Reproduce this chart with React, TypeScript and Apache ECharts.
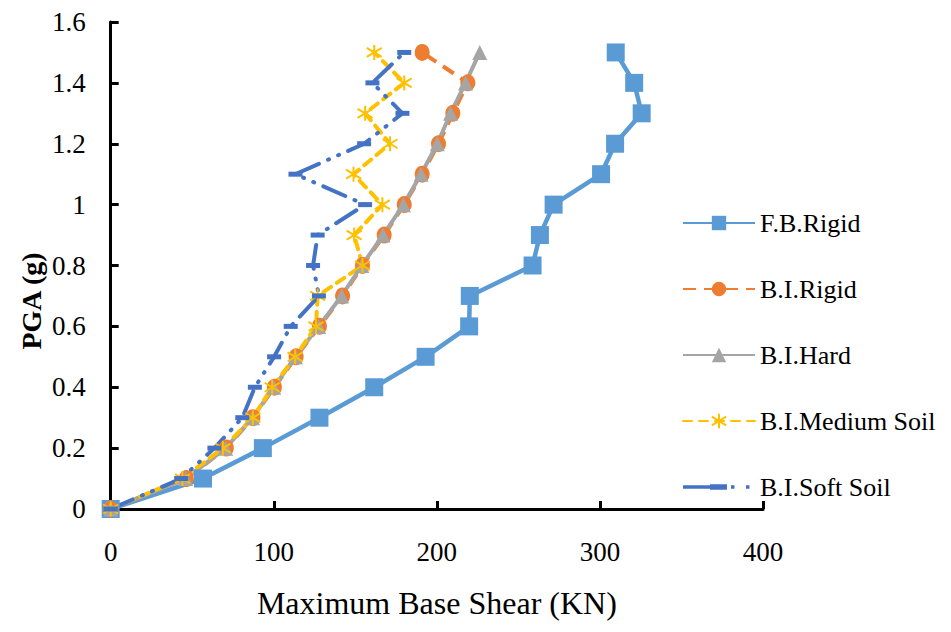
import React, { useEffect, useRef } from "react";
import * as echarts from "echarts";

const pga = [0, 0.1, 0.2, 0.3, 0.4, 0.5, 0.6, 0.7, 0.8, 0.9, 1.0, 1.1, 1.2, 1.3, 1.4, 1.5];
const fbRigid = [0, 56.6, 93.3, 128, 161.6, 193.1, 219.8, 220.2, 258.7, 263.2, 271.6, 300.7, 309.3, 325.6, 321, 309.7];
const biRigid = [0, 46.4, 70.9, 87.2, 100.4, 113.7, 128, 142.2, 154.4, 167.7, 180, 191, 201, 209.8, 219, 191];
const biHard = [0, 46, 70.5, 87, 100, 113.3, 127.5, 141.6, 154, 167, 179.5, 190.3, 200.3, 208.4, 217.6, 226.3];
const biMedium = [0, 44, 68.8, 87.2, 99, 113.1, 125.9, 126.9, 154.4, 149.3, 166.6, 148.9, 171.3, 156, 180, 161.6];
const biSoft = [0, 43.2, 63.6, 80.7, 88.4, 100.2, 110.4, 127.7, 124.1, 126.9, 156, 113.3, 155.4, 178.9, 160.5, 180];

const seriesNames = ["F.B.Rigid", "B.I.Rigid", "B.I.Hard", "B.I.Medium Soil", "B.I.Soft Soil"];
const xTitle = "Maximum Base Shear (KN)";
const yTitle = "PGA (g)";

const FONT = "Liberation Serif, Times New Roman, DejaVu Serif, serif";
const star = "path://M10,0 L10,20 M1.5,4 L18.5,16 M1.5,16 L18.5,4";
const softIcon =
  "path://M0,0 L0.01,0 L0,0.01 Z M72,18 L71.99,18 L72,17.99 Z " +
  "M0,7.2 L44,7.2 L44,10.8 L0,10.8 Z M27,6.3 L44,6.3 L44,11.7 L27,11.7 Z " +
  "M48,7.3 L51.5,7.3 L51.5,10.7 L48,10.7 Z M63,7.3 L66.5,7.3 L66.5,10.7 L63,10.7 Z";

function pts(xs: number[]) {
  return xs.map((x, i) => [x, pga[i]]);
}

export default function App() {
  const ref = useRef<HTMLDivElement>(null);
  useEffect(() => {
    if (!ref.current) return;
    const chart = echarts.init(ref.current, null, { renderer: "svg" });
    chart.setOption({
      animation: false,
      backgroundColor: "#fff",
      textStyle: { fontFamily: FONT },
      grid: { left: 102.7, right: 180, top: 14, bottom: 110, containLabel: false },
      graphic: [
        {
          type: "text",
          x: 23,
          y: 293,
          rotation: Math.PI / 2,
          style: {
            text: yTitle,
            fontFamily: FONT,
            fontSize: 28,
            fontWeight: "bold",
            fill: "#000",
            align: "center",
            verticalAlign: "middle",
          },
        },
      ],
      legend: {
        orient: "vertical",
        left: 674,
        top: 202,
        padding: 0,
        itemWidth: 72,
        itemHeight: 18,
        itemGap: 40,
        textStyle: { fontFamily: FONT, fontSize: 26, color: "#000" },
        data: [
          seriesNames[0],
          seriesNames[1],
          seriesNames[2],
          seriesNames[3],
          { name: seriesNames[4], icon: softIcon },
        ],
      },
      xAxis: {
        type: "value",
        min: 0,
        max: 400,
        interval: 100,
        name: xTitle,
        nameLocation: "middle",
        nameGap: 78,
        nameTextStyle: { fontFamily: FONT, fontSize: 32, color: "#000" },
        axisLine: { show: true, lineStyle: { color: "#000", width: 3 } },
        axisTick: { show: true, inside: true, length: 8, lineStyle: { color: "#000", width: 3 } },
        axisLabel: { margin: 29, fontFamily: FONT, fontSize: 27, color: "#000" },
        splitLine: { show: false },
      },
      yAxis: {
        type: "value",
        min: 0,
        max: 1.6,
        interval: 0.2,
        axisLine: { show: true, lineStyle: { color: "#000", width: 3 } },
        axisTick: { show: true, inside: true, length: 8, lineStyle: { color: "#000", width: 3 } },
        axisLabel: {
          margin: 25,
          fontFamily: FONT,
          fontSize: 27,
          color: "#000",
          formatter: (v: number) => String(+v.toFixed(1)),
        },
        splitLine: { show: false },
      },
      series: [
        {
          name: seriesNames[0],
          type: "line",
          data: pts(fbRigid),
          clip: false,
          symbol: "rect",
          symbolSize: 18,
          lineStyle: { color: "#5B9BD5", width: 4.5 },
          itemStyle: { color: "#5B9BD5" },
        },
        {
          name: seriesNames[1],
          type: "line",
          data: pts(biRigid),
          clip: false,
          symbol: "circle",
          symbolSize: [15, 17],
          lineStyle: { color: "#ED7D31", width: 4, type: [13, 8] },
          itemStyle: { color: "#ED7D31" },
        },
        {
          name: seriesNames[2],
          type: "line",
          data: pts(biHard),
          clip: false,
          symbol: "triangle",
          symbolSize: 15,
          lineStyle: { color: "#A5A5A5", width: 4 },
          itemStyle: { color: "#A5A5A5" },
        },
        {
          name: seriesNames[3],
          type: "line",
          data: pts(biMedium),
          clip: false,
          symbol: star,
          symbolSize: 15,
          lineStyle: { color: "#FFC000", width: 4, type: [9, 7], cap: "round" },
          itemStyle: { color: "#FFC000", borderColor: "#FFC000", borderWidth: 2 },
        },
        {
          name: seriesNames[4],
          type: "line",
          data: pts(biSoft),
          clip: false,
          symbol: "rect",
          symbolSize: [14, 5],
          lineStyle: { color: "#4472C4", width: 4, type: [24, 10, 1, 10, 1, 10], cap: "round" },
          itemStyle: { color: "#4472C4" },
        },
      ],
    });
    return () => chart.dispose();
  }, []);
  return <div ref={ref} style={{ width: 935, height: 616 }} />;
}
